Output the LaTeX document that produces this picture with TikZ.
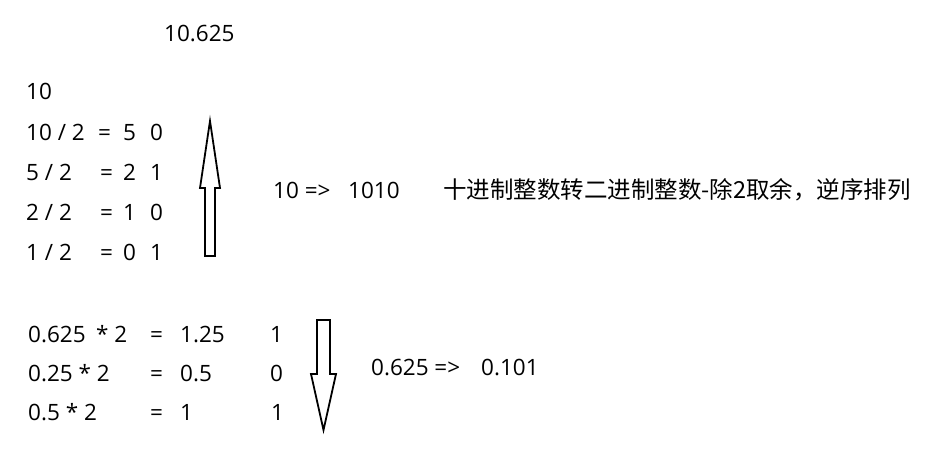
\documentclass[tikz,border=0pt]{standalone}
\usepackage{fontspec}
\setmainfont{Open Sans}
\newfontfamily\cjk{Noto Sans CJK SC}
\begin{document}
\begin{tikzpicture}[x=1pt,y=-1pt,
  txt/.style={anchor=base west,inner sep=0pt,font=\fontsize{22.5}{27}\selectfont,text=black},
  cjktxt/.style={anchor=base west,inner sep=0pt,font=\cjk\fontsize{23.5}{28}\selectfont,text=black},
  blockarrow/.style={draw=black,line width=1.8pt,fill=white,line join=miter}]
\useasboundingbox (0,0) rectangle (928,476);
% title
\node[txt] (title) at (164,42) {10.625};
% integer part
\node[txt] (n10) at (26,100) {10};
\node[txt] (a1) at (26,140) {10 / 2};
\node[txt] (e1) at (98,140) {=};
\node[txt] (q1) at (123,140) {5};
\node[txt] (b1) at (150,140) {0};
\node[txt] (a2) at (26,180) {5 / 2};
\node[txt] (e2) at (100,180) {=};
\node[txt] (q2) at (123,180) {2};
\node[txt] (b2) at (150,180) {1};
\node[txt] (a3) at (26,220) {2 / 2};
\node[txt] (e3) at (100,220) {=};
\node[txt] (q3) at (123,220) {1};
\node[txt] (b3) at (150,220) {0};
\node[txt] (a4) at (26,260) {1 / 2};
\node[txt] (e4) at (100,260) {=};
\node[txt] (q4) at (123,260) {0};
\node[txt] (b4) at (150,260) {1};
% up arrow
\draw[blockarrow] (205,256) -- (205,188) -- (200,188) -- (210,121) -- (220,188) -- (215,188) -- (215,256) -- cycle;
% integer result
\node[txt] (r1) at (273,198) {10 =>};
\node[txt] (r1b) at (348,198) {1010};
\node[cjktxt] (note) at (443,198) {十进制整数转二进制整数-除2取余，逆序排列};
% fraction part
\node[txt] (f1) at (28,342) {0.625};
\node[txt] (m1) at (96,342) {* 2};
\node[txt] (g1) at (150,342) {=};
\node[txt] (p1) at (180,342) {1.25};
\node[txt] (c1) at (270,342) {1};
\node[txt] (f2) at (28,381) {0.25 * 2};
\node[txt] (g2) at (150,381) {=};
\node[txt] (p2) at (180,381) {0.5};
\node[txt] (c2) at (270,381) {0};
\node[txt] (f3) at (28,420) {0.5 * 2};
\node[txt] (g3) at (150,420) {=};
\node[txt] (p3) at (180,420) {1};
\node[txt] (c3) at (271,420) {1};
% down arrow
\draw[blockarrow] (317,320) -- (330,320) -- (330,374) -- (336,374) -- (323.5,430) -- (311,374) -- (317,374) -- cycle;
% fraction result
\node[txt] (r2) at (371,375) {0.625 =>};
\node[txt] (r2b) at (481,375) {0.101};
\end{tikzpicture}
\end{document}
